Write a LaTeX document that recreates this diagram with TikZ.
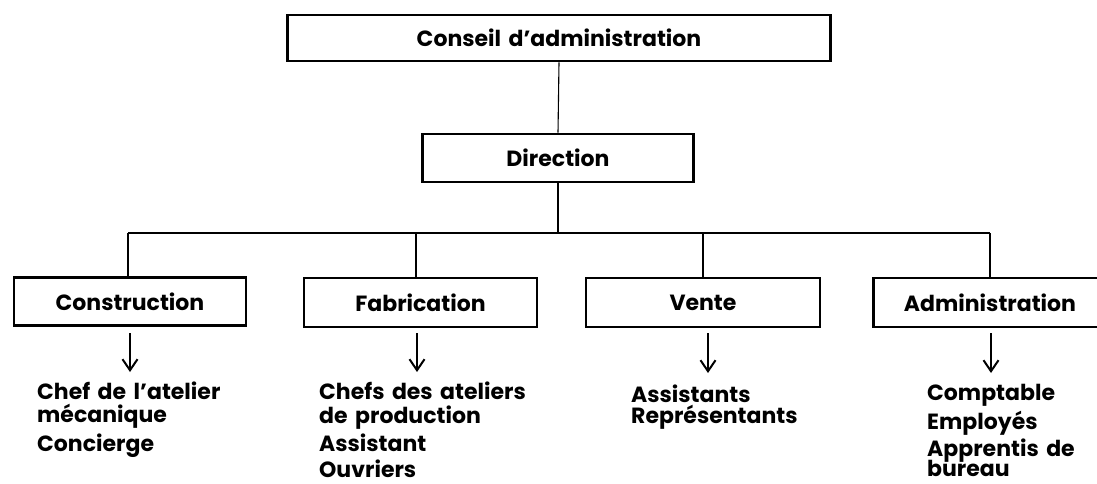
\documentclass[tikz,border=0pt]{standalone}
\usepackage{fontspec}
\setmainfont{Poppins}[WordSpace=1.6]
\usetikzlibrary{arrows.meta}
\begin{document}
\begin{tikzpicture}[x=1pt,y=-1pt,
  box/.style={draw, line width=2.6pt, inner sep=0pt, font=\fontsize{22}{24}\selectfont\bfseries},
  link/.style={line width=1.1pt},
  down/.style={line width=1.8pt, -{Straight Barb[length=11pt,width=15pt,line width=2pt]}},
  item/.style={anchor=base west, inner sep=0pt, font=\fontsize{22}{24}\selectfont\bfseries}]
\fill[white] (0,0) rectangle (1097,484);
\useasboundingbox (0,0) rectangle (1097,484);

\node[box, minimum width=543pt, minimum height=46pt] (cda) at (559,38) {Conseil d’administration};
\node[box, minimum width=271pt, minimum height=48pt] (dir) at (558,158) {Direction};

\node[box, minimum width=232pt, minimum height=48pt] (con) at (130,301.5) {Construction};
\node[box, minimum width=233pt, minimum height=49pt] (fab) at (420.5,302.5) {Fabrication};
\node[box, minimum width=234pt, minimum height=49pt] (ven) at (703,302.5) {Vente};
\node[box, minimum width=233pt, minimum height=49pt] (adm) at (990,302.5) {Administration};

\coordinate (busL) at (128,233);
\coordinate (busR) at (990,233);
\draw[link] (cda.south) -- (dir.north);
\draw[link] (dir.south) -- (dir.south |- busL);
\draw[link] (busL) -- (busR);
\draw[link] (busL) -- (busL |- con.north);
\draw[link] (416,233) -- (416,277);
\draw[link] (703,233) -- (ven.north);
\draw[link] (busR) -- (adm.north);

\coordinate (conA) at (130,372);
\coordinate (fabA) at (417,372);
\coordinate (venA) at (708,373);
\coordinate (admA) at (991,373);
\draw[down] (130,333) -- (conA);
\draw[down] (417,333) -- (fabA);
\draw[down] (708,333) -- (venA);
\draw[down] (991,333) -- (admA);

\node[item] (c1) at (37,399) {Chef de l’atelier};
\node[item] (c2) at (37,422) {mécanique};
\node[item] (c3) at (37,451) {Concierge};

\node[item] (f1) at (319,399) {Chefs des ateliers};
\node[item] (f2) at (319,423) {de production};
\node[item] (f3) at (319,451) {Assistant};
\node[item] (f4) at (319,477) {Ouvriers};

\node[item] (v1) at (631,402) {Assistants};
\node[item] (v2) at (631,423) {Représentants};

\node[item] (a1) at (927,400) {Comptable};
\node[item] (a2) at (927,429) {Employés};
\node[item] (a3) at (927,456) {Apprentis de};
\node[item] (a4) at (927,476) {bureau};
\end{tikzpicture}
\end{document}
